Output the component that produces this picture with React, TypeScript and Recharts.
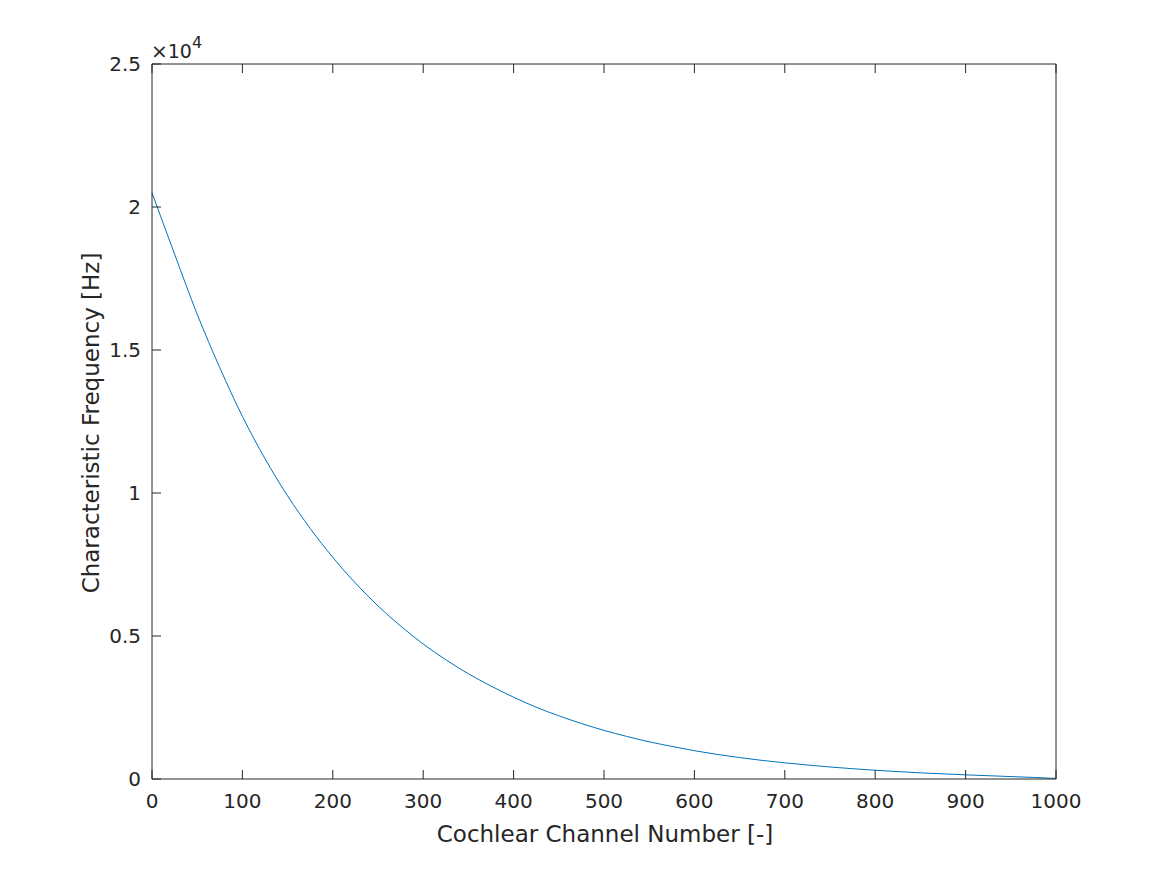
import React from 'react'
import { LineChart, Line, XAxis, YAxis } from 'recharts'

// cochlear channel index (x) and characteristic frequency in Hz (y)
const channels = [
  0, 25, 50, 75, 100, 125, 150, 175, 200, 225, 250, 275, 300, 325, 350, 375, 400,
  425, 450, 475, 500, 525, 550, 575, 600, 625, 650, 675, 700, 725, 750, 775, 800,
  825, 850, 875, 900, 925, 950, 975, 1000,
]
const freqHz = [
  20500, 18350, 16250, 14380, 12680, 11200, 9900, 8760, 7750, 6850, 6050, 5350,
  4720, 4170, 3680, 3250, 2860, 2510, 2210, 1940, 1700, 1490, 1300, 1140, 990,
  860, 750, 650, 565, 490, 420, 360, 305, 260, 215, 180, 145, 115, 85, 55, 20,
]
const xTicks = [0, 100, 200, 300, 400, 500, 600, 700, 800, 900, 1000]
const yTicks = [0, 5000, 10000, 15000, 20000, 25000]

const data = channels.map((c, i) => ({ channel: c, freq: freqHz[i] }))

const W = 1167
const H = 875
const FONT = 'DejaVu Sans, sans-serif'
const INK = '#262626'
const TICK = 9

const fmtY = (v: number) => String(v / 10000)

function BottomTick({ x, y, payload }: any) {
  return (
    <g>
      <line x1={x} y1={y} x2={x} y2={y - TICK} stroke={INK} strokeWidth={1} />
      <text x={x} y={y + 29} textAnchor="middle" fontSize={20} fontFamily={FONT} fill={INK}>
        {payload.value}
      </text>
    </g>
  )
}

function TopTick({ x, y }: any) {
  return <line x1={x} y1={y} x2={x} y2={y + TICK} stroke={INK} strokeWidth={1} />
}

function LeftTick({ x, y, payload }: any) {
  return (
    <g>
      <line x1={x} y1={y} x2={x + TICK} y2={y} stroke={INK} strokeWidth={1} />
      <text x={x - 11} y={y + 7} textAnchor="end" fontSize={20} fontFamily={FONT} fill={INK}>
        {fmtY(payload.value)}
      </text>
    </g>
  )
}

function RightTick({ x, y }: any) {
  return <line x1={x} y1={y} x2={x - TICK} y2={y} stroke={INK} strokeWidth={1} />
}

export default function App() {
  return (
    <div style={{ position: 'fixed', left: 0, top: 0, width: W, height: H, background: '#fff' }}>
      <LineChart
        width={W}
        height={H}
        data={data}
        margin={{ top: 63, right: 110, bottom: 36, left: 92 }}
      >
        <XAxis
          dataKey="channel"
          type="number"
          domain={[0, 1000]}
          ticks={xTicks}
          tickLine={false}
          tickSize={0}
          tickMargin={0}
          height={60}
          stroke={INK}
          tick={<BottomTick />}
          interval={0}
        />
        <XAxis
          xAxisId="top"
          orientation="top"
          dataKey="channel"
          type="number"
          domain={[0, 1000]}
          ticks={xTicks}
          tickLine={false}
          tickSize={0}
          tickMargin={0}
          height={1}
          stroke={INK}
          tick={<TopTick />}
          interval={0}
        />
        <YAxis
          type="number"
          domain={[0, 25000]}
          ticks={yTicks}
          tickLine={false}
          tickSize={0}
          tickMargin={0}
          width={60}
          stroke={INK}
          tick={<LeftTick />}
          interval={0}
        />
        <YAxis
          yAxisId="right"
          orientation="right"
          type="number"
          domain={[0, 25000]}
          ticks={yTicks}
          tickLine={false}
          tickSize={0}
          tickMargin={0}
          width={1}
          stroke={INK}
          tick={<RightTick />}
          interval={0}
        />
        <Line
          dataKey="freq"
          type="monotone"
          stroke="#0072BD"
          strokeWidth={1}
          dot={false}
          isAnimationActive={false}
        />
      </LineChart>
      <svg
        width={W}
        height={H}
        style={{ position: 'absolute', left: 0, top: 0, pointerEvents: 'none' }}
      >
        <text x={151} y={58} fontFamily={FONT} fill={INK}>
          <tspan fontSize={20}>×</tspan>
          <tspan fontSize={19}>10</tspan>
          <tspan fontSize={16} dy={-10}>4</tspan>
        </text>
        <text x={605} y={842} textAnchor="middle" fontSize={23} fontFamily={FONT} fill={INK}>
          Cochlear Channel Number [-]
        </text>
        <text
          x={0}
          y={0}
          transform="translate(99 423) rotate(-90)"
          textAnchor="middle"
          fontSize={23}
          fontFamily={FONT}
          fill={INK}
        >
          Characteristic Frequency [Hz]
        </text>
      </svg>
    </div>
  )
}
